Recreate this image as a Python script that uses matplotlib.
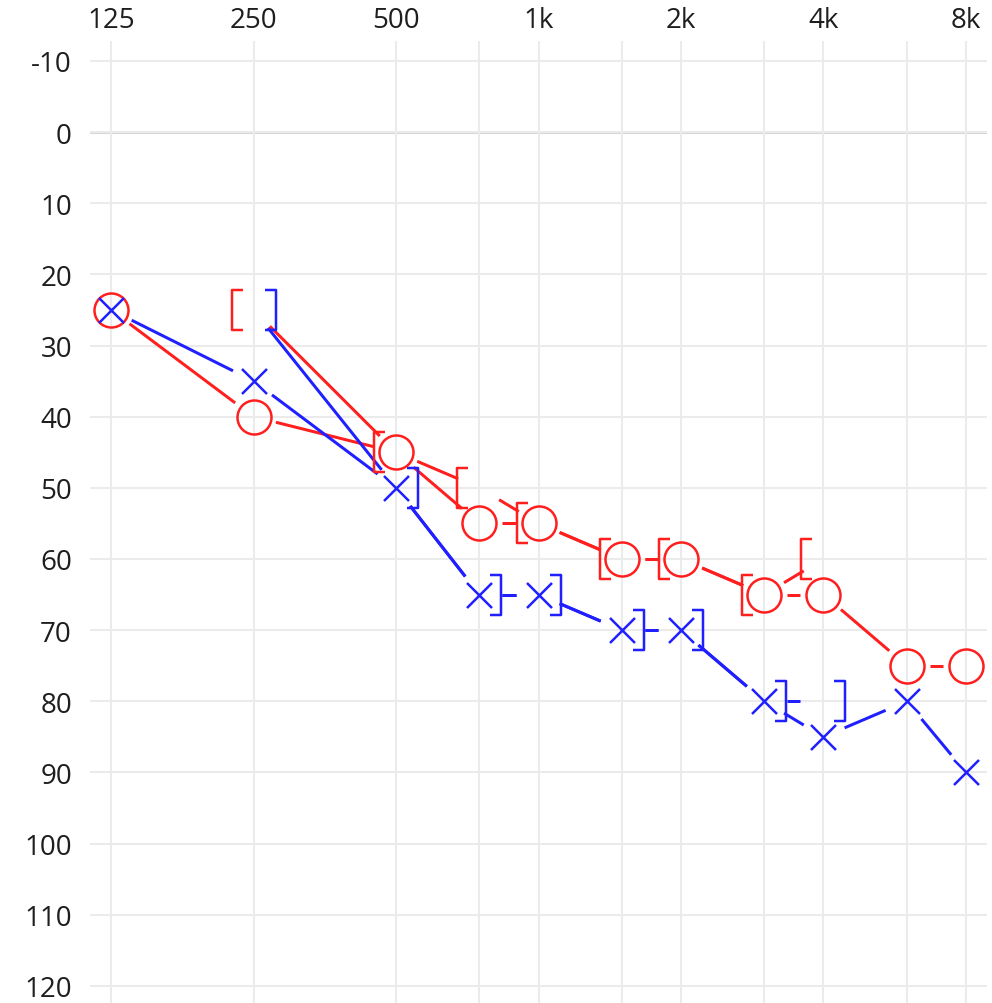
import numpy as np
import matplotlib
matplotlib.use("Agg")
import matplotlib.pyplot as plt
from matplotlib.path import Path
from matplotlib.markers import MarkerStyle

# audiogram values (dB HL)
freqs = [125, 250, 500, 750, 1000, 1500, 2000, 3000, 4000, 6000, 8000]
right_air = [25, 40, 45, 55, 55, 60, 60, 65, 65, 75, 75]
left_air = [25, 35, 50, 65, 65, 70, 70, 80, 85, 80, 90]

bone_freqs = [250, 500, 750, 1000, 1500, 2000, 3000, 4000]
right_bone = [25, 45, 50, 55, 60, 60, 65, 60]
left_bone = [25, 50, 65, 65, 70, 70, 80, 80]

xticks = [125, 250, 500, 1000, 2000, 4000, 8000]
xticklabels = ["125", "250", "500", "1k", "2k", "4k", "8k"]
minor_ticks = [750, 1500, 3000, 6000]
yticks = list(range(-10, 121, 10))

RED = "#ff1f1f"
BLUE = "#1f1fff"
DPI = 100
PX = 72.0 / DPI  # points per pixel

plt.rcParams['font.family'] = ['Open Sans', 'DejaVu Sans']

fig = plt.figure(figsize=(9.92, 10.04), dpi=DPI)
ax = fig.add_axes([90 / 992, 0.0, 897 / 992, 962 / 1004])
ax.set_xscale("log")
ax.set_xlim(112.8, 8864)
ax.set_ylim(122.4, -12.8)

ax.set_xticks(xticks)
ax.set_xticklabels(xticklabels)
ax.set_xticks(minor_ticks, minor=True)
ax.set_xticklabels([], minor=True)
ax.set_yticks(yticks)
ax.set_yticklabels([str(v) for v in yticks])
ax.xaxis.tick_top()
ax.tick_params(axis="both", which="both", length=0, labelsize=20, colors="#1e1e1e")
ax.tick_params(axis="x", pad=5)
ax.tick_params(axis="y", pad=13)
for s in ax.spines.values():
    s.set_visible(False)

ax.grid(True, which="both", axis="x", color="#ebebeb", lw=1.5)
ax.grid(True, axis="y", color="#ebebeb", lw=1.5)
ax.set_axisbelow(True)
ax.axhline(0, color="#d0d0d0", lw=2, zorder=0.5)


def gapped_line(xs, ys, color, gap=23):
    # draw segments between points, leaving a gap round each symbol
    pts = ax.transData.transform(np.column_stack([xs, ys]))
    inv = ax.transData.inverted()
    for p0, p1 in zip(pts[:-1], pts[1:]):
        d = p1 - p0
        L = np.hypot(d[0], d[1])
        if L <= 2 * gap:
            continue
        u = d / L
        seg = inv.transform([p0 + u * gap, p1 - u * gap])
        ax.plot(seg[:, 0], seg[:, 1], color=color, lw=3 * PX,
                solid_capstyle="butt", zorder=2)


gapped_line(freqs, right_air, RED)
gapped_line(freqs, left_air, BLUE)
gapped_line(bone_freqs, right_bone, RED)
gapped_line(bone_freqs, left_bone, BLUE)

# bracket symbols for masked bone conduction, in pixel units
codes = [Path.MOVETO, Path.LINETO, Path.LINETO, Path.LINETO]
left_br = Path([(-11, -20), (-22, -20), (-22, 20), (-11, 20)], codes)
right_br = Path([(11, -20), (22, -20), (22, 20), (11, 20)], codes)
br_size = 44 * PX

ax.plot(bone_freqs, right_bone, ls="none",
        marker=MarkerStyle(left_br, joinstyle="miter"), ms=br_size,
        mec=RED, mfc="none", mew=2.5 * PX, zorder=3)
ax.plot(bone_freqs, left_bone, ls="none",
        marker=MarkerStyle(right_br, joinstyle="miter"), ms=br_size,
        mec=BLUE, mfc="none", mew=2.5 * PX, zorder=3)

ax.plot(freqs, right_air, ls="none", marker="o", ms=34 * PX,
        mec=RED, mfc="none", mew=2.5 * PX, zorder=3)
ax.plot(freqs, left_air, ls="none", marker="x", ms=25 * PX,
        mec=BLUE, mew=2.5 * PX, zorder=3)

fig.savefig("out.png", dpi=DPI)
